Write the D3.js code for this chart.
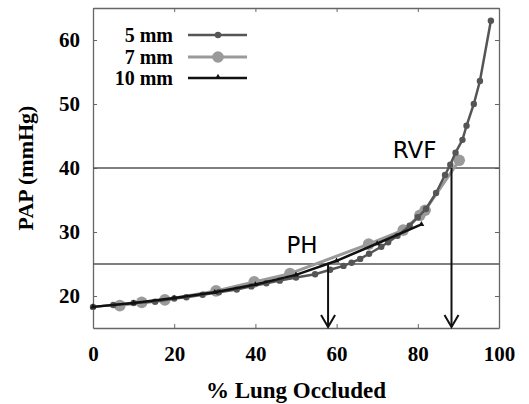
<!DOCTYPE html>
<html>
<head>
<meta charset="utf-8">
<script src="https://cdn.jsdelivr.net/npm/d3@7.9.0/dist/d3.min.js"></script>
<style>
  body { margin: 0; background: #fff; }
  svg { display: block; }
  .tick text { font-family: "Liberation Serif", "DejaVu Serif", serif; font-weight: bold; font-size: 21px; fill: #000; }
</style>
</head>
<body>
<svg id="chart" width="529" height="404"></svg>
<script>
// 5 mm series (% occluded, PAP)
const occl5 = [0, 5, 10, 15.3, 20, 23, 27, 31, 35.4, 39, 42.7, 46, 50, 54.7, 58.4, 61.7, 63.7, 65.8, 68, 71, 72.7, 75, 78, 80, 82, 84.5, 86.7, 88, 89.3, 91, 92, 93.8, 95.3, 98];
const pap5  = [18.3, 18.6, 18.9, 19.1, 19.6, 19.8, 20.2, 20.6, 21.0, 21.5, 22.0, 22.4, 22.9, 23.4, 24.1, 24.7, 25.2, 25.8, 26.6, 27.7, 28.4, 29.4, 31.0, 32.3, 33.6, 36.1, 38.9, 40.5, 42.4, 44.4, 46.6, 50.0, 53.6, 63.0];

// 7 mm series
const occl7 = [6.6, 12, 17.7, 30.3, 39.7, 48.5, 67.9, 76.4, 80.5, 81.8, 90.2];
const pap7  = [18.5, 19.0, 19.4, 20.8, 22.2, 23.5, 28.1, 30.3, 32.6, 33.4, 41.2];

// 10 mm series
const occl10 = [0, 10, 20, 30, 40, 50, 60, 70, 80.9];
const pap10  = [18.3, 18.9, 19.7, 20.6, 21.8, 23.3, 25.5, 28.2, 31.2];

// thresholds and crossing points
const thresholds = [40, 25];
const markers = [
  { label: "PH",  x: 57.9, y: 25.2, lx: 51.5 },
  { label: "RVF", x: 88.3, y: 40,   lx: 79.2 }
];

const xTicks = [0, 20, 40, 60, 80, 100];
const yTicks = [20, 30, 40, 50, 60];

const legendItems = [
  { name: "5 mm",  color: "#555", width: 2.5, marker: "dot", r: 3.2 },
  { name: "7 mm",  color: "#9a9a9a", width: 3, marker: "dot", r: 5.8 },
  { name: "10 mm", color: "#111", width: 2.5, marker: "tri", r: 2.5 }
];

const svg = d3.select("#chart");
const margin = { left: 93, right: 30, top: 8, bottom: 76 };
const W = 529, H = 404;

const x = d3.scaleLinear().domain([0, 100]).range([margin.left, W - margin.right]);
const y = d3.scaleLinear().domain([15, 65]).range([H - margin.bottom, margin.top]);

const frameColor = "#666";

// axes with inward ticks
const gx = svg.append("g").attr("transform", `translate(0,${y(15)})`)
  .call(d3.axisBottom(x).tickValues(xTicks).tickSizeInner(-4).tickSizeOuter(0).tickPadding(18));
const gy = svg.append("g").attr("transform", `translate(${x(0)},0)`)
  .call(d3.axisLeft(y).tickValues(yTicks).tickSizeInner(-4).tickSizeOuter(0).tickPadding(13));
const gxt = svg.append("g").attr("transform", `translate(0,${y(65)})`)
  .call(d3.axisTop(x).tickValues(xTicks).tickSizeInner(-4).tickSizeOuter(0).tickFormat(""));
const gyr = svg.append("g").attr("transform", `translate(${x(100)},0)`)
  .call(d3.axisRight(y).tickValues(yTicks).tickSizeInner(-4).tickSizeOuter(0).tickFormat(""));
[gx, gy, gxt, gyr].forEach(g => {
  g.select(".domain").attr("stroke", frameColor).attr("stroke-width", 1.3);
  g.selectAll(".tick line").attr("stroke", frameColor).attr("stroke-width", 1);
});
gx.selectAll(".tick text").attr("dy", "0.71em");

// threshold lines
svg.selectAll(".thr").data(thresholds).join("line")
  .attr("x1", x(0)).attr("x2", x(100))
  .attr("y1", d => y(d)).attr("y2", d => y(d))
  .attr("stroke", "#555").attr("stroke-width", 1.3);

const line = d3.line().x(d => x(d[0])).y(d => y(d[1]));

// 7 mm
const d7 = occl7.map((v, i) => [v, pap7[i]]);
svg.append("path").attr("d", line(d7)).attr("fill", "none")
  .attr("stroke", "#9a9a9a").attr("stroke-width", 3);
svg.selectAll(".p7").data(d7).join("circle")
  .attr("cx", d => x(d[0])).attr("cy", d => y(d[1])).attr("r", 5.8).attr("fill", "#9a9a9a");

// 5 mm
const d5 = occl5.map((v, i) => [v, pap5[i]]);
svg.append("path").attr("d", line(d5)).attr("fill", "none")
  .attr("stroke", "#555").attr("stroke-width", 2.5);
svg.selectAll(".p5").data(d5).join("circle")
  .attr("cx", d => x(d[0])).attr("cy", d => y(d[1])).attr("r", 3.2).attr("fill", "#555");

// 10 mm
const d10 = occl10.map((v, i) => [v, pap10[i]]);
svg.append("path").attr("d", line(d10)).attr("fill", "none")
  .attr("stroke", "#111").attr("stroke-width", 2.5);
const tri = d3.symbol().type(d3.symbolTriangle).size(14);
svg.selectAll(".p10").data(d10).join("path")
  .attr("d", tri)
  .attr("transform", d => `translate(${x(d[0])},${y(d[1])})`)
  .attr("fill", "#111");

// arrows + labels
markers.forEach(m => {
  const xp = x(m.x), yb = y(15);
  svg.append("line").attr("x1", xp).attr("x2", xp).attr("y1", y(m.y)).attr("y2", yb - 1)
    .attr("stroke", "#111").attr("stroke-width", 2);
  svg.append("path")
    .attr("d", `M${xp - 7},${yb - 13} L${xp},${yb - 1} L${xp + 7},${yb - 13}`)
    .attr("fill", "none").attr("stroke", "#111").attr("stroke-width", 2);
  svg.append("text").attr("x", x(m.lx)).attr("y", y(m.y) - 10).attr("text-anchor", "middle")
    .attr("font-family", "DejaVu Sans, sans-serif").attr("font-size", 23).text(m.label);
});

// legend
const lg = svg.append("g");
legendItems.forEach((d, i) => {
  const ly = [35, 57, 78][i];
  lg.append("text").attr("x", 173).attr("y", ly).attr("dy", "0.35em")
    .attr("text-anchor", "end")
    .attr("font-family", "Liberation Serif, serif").attr("font-weight", "bold").attr("font-size", 20)
    .text(d.name);
  lg.append("line").attr("x1", 188).attr("x2", 247).attr("y1", ly).attr("y2", ly)
    .attr("stroke", d.color).attr("stroke-width", d.width);
  if (d.marker === "dot") {
    lg.append("circle").attr("cx", 218).attr("cy", ly).attr("r", d.r).attr("fill", d.color);
  } else {
    lg.append("path").attr("d", tri).attr("transform", `translate(218,${ly - 1})`).attr("fill", d.color);
  }
});

// axis titles
svg.append("text").attr("x", (x(0) + x(100)) / 2).attr("y", 398).attr("text-anchor", "middle")
  .attr("font-family", "Liberation Serif, serif").attr("font-weight", "bold").attr("font-size", 23)
  .text("% Lung Occluded");
svg.append("text").attr("transform", `translate(33,${(y(15) + y(65)) / 2}) rotate(-90)`)
  .attr("text-anchor", "middle")
  .attr("font-family", "Liberation Serif, serif").attr("font-weight", "bold").attr("font-size", 22)
  .text("PAP (mmHg)");
</script>
</body>
</html>
